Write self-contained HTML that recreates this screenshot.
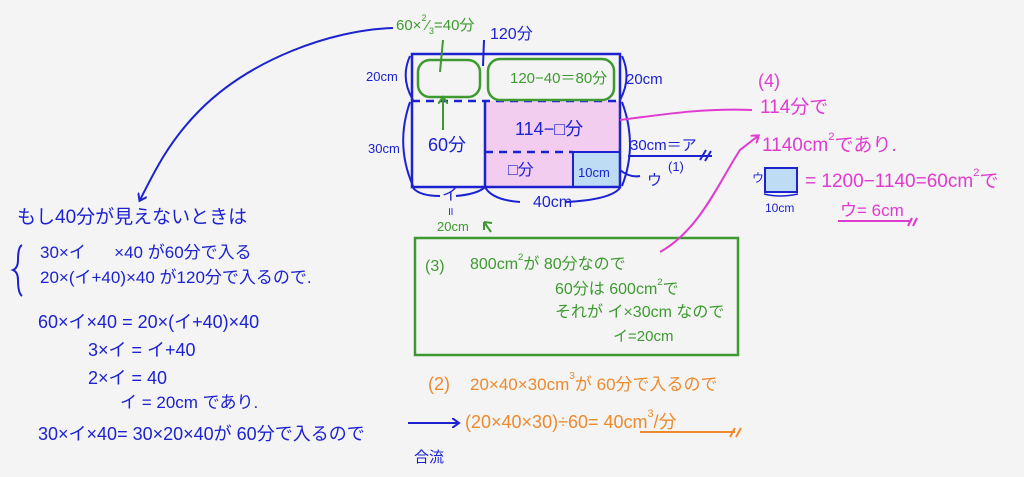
<!DOCTYPE html>
<html><head><meta charset="utf-8"><style>
html,body{margin:0;padding:0}
body{width:1024px;height:477px;background:#f4f4f4;position:relative;overflow:hidden;font-family:"Liberation Sans","Noto Sans CJK JP",sans-serif}
.t{position:absolute;white-space:nowrap;line-height:1}
.b{color:#1d22d0}.g{color:#3e9a30}.o{color:#ec8a2e}.p{color:#e03ad0}
sup{font-size:60%;vertical-align:top;position:relative;top:-4px}
</style></head><body>
<svg width="1024" height="477" style="position:absolute;left:0;top:0">
<defs>
<marker id="ab" markerWidth="10" markerHeight="10" refX="6" refY="5" orient="auto" markerUnits="userSpaceOnUse"><path d="M0,0 L7,5 L0,10" fill="none" stroke="#1d22d0" stroke-width="2"/></marker>
<marker id="ap" markerWidth="10" markerHeight="10" refX="6" refY="5" orient="auto" markerUnits="userSpaceOnUse"><path d="M0,0 L7,5 L0,10" fill="none" stroke="#e03ad0" stroke-width="2"/></marker>
<marker id="ag" markerWidth="10" markerHeight="10" refX="6" refY="5" orient="auto" markerUnits="userSpaceOnUse"><path d="M0,0 L7,5 L0,10" fill="none" stroke="#3e9a30" stroke-width="2"/></marker>
</defs>
<rect x="485" y="101" width="135" height="86" fill="#f2cdf0"/>
<rect x="573" y="152" width="47" height="35" fill="#bfdcf5" stroke="#1d22d0" stroke-width="2"/>
<rect x="412" y="54" width="208" height="133" fill="none" stroke="#1d22d0" stroke-width="2.5"/>
<line x1="412" y1="101" x2="620" y2="101" stroke="#1d22d0" stroke-width="2.5" stroke-dasharray="8,6"/>
<line x1="485" y1="101" x2="485" y2="187" stroke="#1d22d0" stroke-width="2.5"/>
<line x1="485" y1="152" x2="573" y2="152" stroke="#1d22d0" stroke-width="2.5" stroke-dasharray="8,6"/>
<rect x="418" y="60" width="62" height="37" rx="12" fill="none" stroke="#3e9a30" stroke-width="2.5"/>
<rect x="488" y="59" width="126" height="41" rx="12" fill="none" stroke="#3e9a30" stroke-width="2.5"/>
<line x1="443" y1="40" x2="440" y2="72" stroke="#3e9a30" stroke-width="2"/>
<line x1="443" y1="130" x2="443" y2="98" stroke="#3e9a30" stroke-width="2" marker-end="url(#ag)"/>
<path d="M484,40 L483,66" stroke="#1d22d0" stroke-width="2" fill="none"/>
<path d="M410,56 Q400,78 413,100 M410,102 Q395,145 413,186 M622,56 Q632,78 620,100 M622,102 Q638,145 622,186" stroke="#1d22d0" stroke-width="2" fill="none"/>
<path d="M413,188 Q420,196 440,196 M456,196 Q478,194 485,187 Q492,200 520,202 M565,202 Q610,200 620,188" stroke="#1d22d0" stroke-width="2" fill="none"/>
<line x1="628" y1="156" x2="712" y2="156" stroke="#1d22d0" stroke-width="2"/>
<path d="M700,160 L706,150 M705,161 L711,151" stroke="#1d22d0" stroke-width="2"/>
<path d="M620,170 Q630,178 640,176" stroke="#1d22d0" stroke-width="2" fill="none"/>
<path d="M393,28 C330,30 250,60 200,110 C170,140 155,170 140,200" stroke="#1d22d0" stroke-width="2" fill="none" marker-end="url(#ab)"/>
<path d="M491,232 L484,222 M484,222 L484,230 M484,222 L492,223" stroke="#3e9a30" stroke-width="2" fill="none"/>
<rect x="415" y="238" width="323" height="117" fill="none" stroke="#3e9a30" stroke-width="2.5"/>
<path d="M660,252 C700,230 720,180 740,150 L758,136" stroke="#e03ad0" stroke-width="2" fill="none" marker-end="url(#ap)"/>
<path d="M620,120 C660,115 700,108 752,110" stroke="#e03ad0" stroke-width="2" fill="none"/>
<rect x="765" y="168" width="32" height="24" fill="#bfdcf5" stroke="#1d22d0" stroke-width="2"/>
<path d="M764,194 Q780,198 798,194" stroke="#1d22d0" stroke-width="1.5" fill="none"/>
<line x1="838" y1="221" x2="910" y2="221" stroke="#e03ad0" stroke-width="2"/>
<path d="M908,226 L912,218 M913,226 L917,218" stroke="#e03ad0" stroke-width="2"/>
<path d="M22,245 Q18,247 18,260 Q18,268 13,270 Q18,272 18,280 Q18,293 22,296" stroke="#1d22d0" stroke-width="2" fill="none"/>
<line x1="408" y1="423" x2="458" y2="423" stroke="#1d22d0" stroke-width="2" marker-end="url(#ab)"/>
<line x1="640" y1="432" x2="735" y2="432" stroke="#ec8a2e" stroke-width="2"/>
<path d="M730,437 L735,428 M736,437 L741,428" stroke="#ec8a2e" stroke-width="2"/>
</svg>
<div class="t g" style="left:396px;top:18px;font-size:15px">60×<sup>2</sup>⁄<sub style="font-size:60%">3</sub>=40分</div>
<div class="t b" style="left:490px;top:27px;font-size:16px">120分</div>
<div class="t b" style="left:366px;top:70px;font-size:13px">20cm</div>
<div class="t b" style="left:626px;top:72px;font-size:15px">20cm</div>
<div class="t g" style="left:510px;top:71px;font-size:15px">120−40＝80分</div>
<div class="t b" style="left:368px;top:142px;font-size:13px">30cm</div>
<div class="t b" style="left:428px;top:136px;font-size:18px">60分</div>
<div class="t b" style="left:515px;top:120px;font-size:18px">114−□分</div>
<div class="t b" style="left:508px;top:163px;font-size:16px">□分</div>
<div class="t b" style="left:578px;top:166px;font-size:13px">10cm</div>
<div class="t b" style="left:630px;top:138px;font-size:15px">30cm＝ア</div>
<div class="t b" style="left:668px;top:160px;font-size:13px">(1)</div>
<div class="t b" style="left:647px;top:173px;font-size:15px">ウ</div>
<div class="t b" style="left:442px;top:188px;font-size:16px">イ</div>
<div class="t b" style="left:533px;top:195px;font-size:16px">40cm</div>
<div class="t b" style="left:447px;top:207px;font-size:11px">॥</div>
<div class="t g" style="left:437px;top:220px;font-size:13px">20cm</div>
<div class="t p" style="left:758px;top:72px;font-size:18px">(4)</div>
<div class="t p" style="left:760px;top:98px;font-size:19px">114分で</div>
<div class="t p" style="left:762px;top:136px;font-size:19px">1140cm<sup>2</sup>であり.</div>
<div class="t b" style="left:752px;top:172px;font-size:12px">ウ</div>
<div class="t p" style="left:805px;top:172px;font-size:19px">= 1200−1140=60cm<sup>2</sup>で</div>
<div class="t b" style="left:765px;top:202px;font-size:12px">10cm</div>
<div class="t p" style="left:840px;top:202px;font-size:17px">ウ= 6cm</div>
<div class="t g" style="left:425px;top:259px;font-size:16px">(3)</div>
<div class="t g" style="left:470px;top:257px;font-size:16px">800cm<sup>2</sup>が 80分なので</div>
<div class="t g" style="left:555px;top:282px;font-size:16px">60分は 600cm<sup>2</sup>で</div>
<div class="t g" style="left:555px;top:305px;font-size:16px">それが イ×30cm なので</div>
<div class="t g" style="left:613px;top:329px;font-size:15px">イ=20cm</div>
<div class="t o" style="left:428px;top:375px;font-size:18px">(2)</div>
<div class="t o" style="left:470px;top:376px;font-size:17px">20×40×30cm<sup>3</sup>が 60分で入るので</div>
<div class="t o" style="left:465px;top:413px;font-size:18px">(20×40×30)÷60= 40cm<sup>3</sup>/分</div>
<div class="t b" style="left:17px;top:208px;font-size:19px">もし40分が見えないときは</div>
<div class="t b" style="left:40px;top:244px;font-size:17px">30×イ&nbsp;&nbsp;&nbsp;&nbsp;&nbsp;&nbsp;×40 が60分で入る</div>
<div class="t b" style="left:40px;top:269px;font-size:17px">20×(イ+40)×40 が120分で入るので.</div>
<div class="t b" style="left:38px;top:313px;font-size:18px">60×イ×40 = 20×(イ+40)×40</div>
<div class="t b" style="left:88px;top:341px;font-size:18px">3×イ = イ+40</div>
<div class="t b" style="left:88px;top:369px;font-size:18px">2×イ = 40</div>
<div class="t b" style="left:120px;top:394px;font-size:17px">イ = 20cm であり.</div>
<div class="t b" style="left:38px;top:425px;font-size:18px">30×イ×40= 30×20×40が 60分で入るので</div>
<div class="t b" style="left:414px;top:450px;font-size:15px">合流</div>
</body></html>
